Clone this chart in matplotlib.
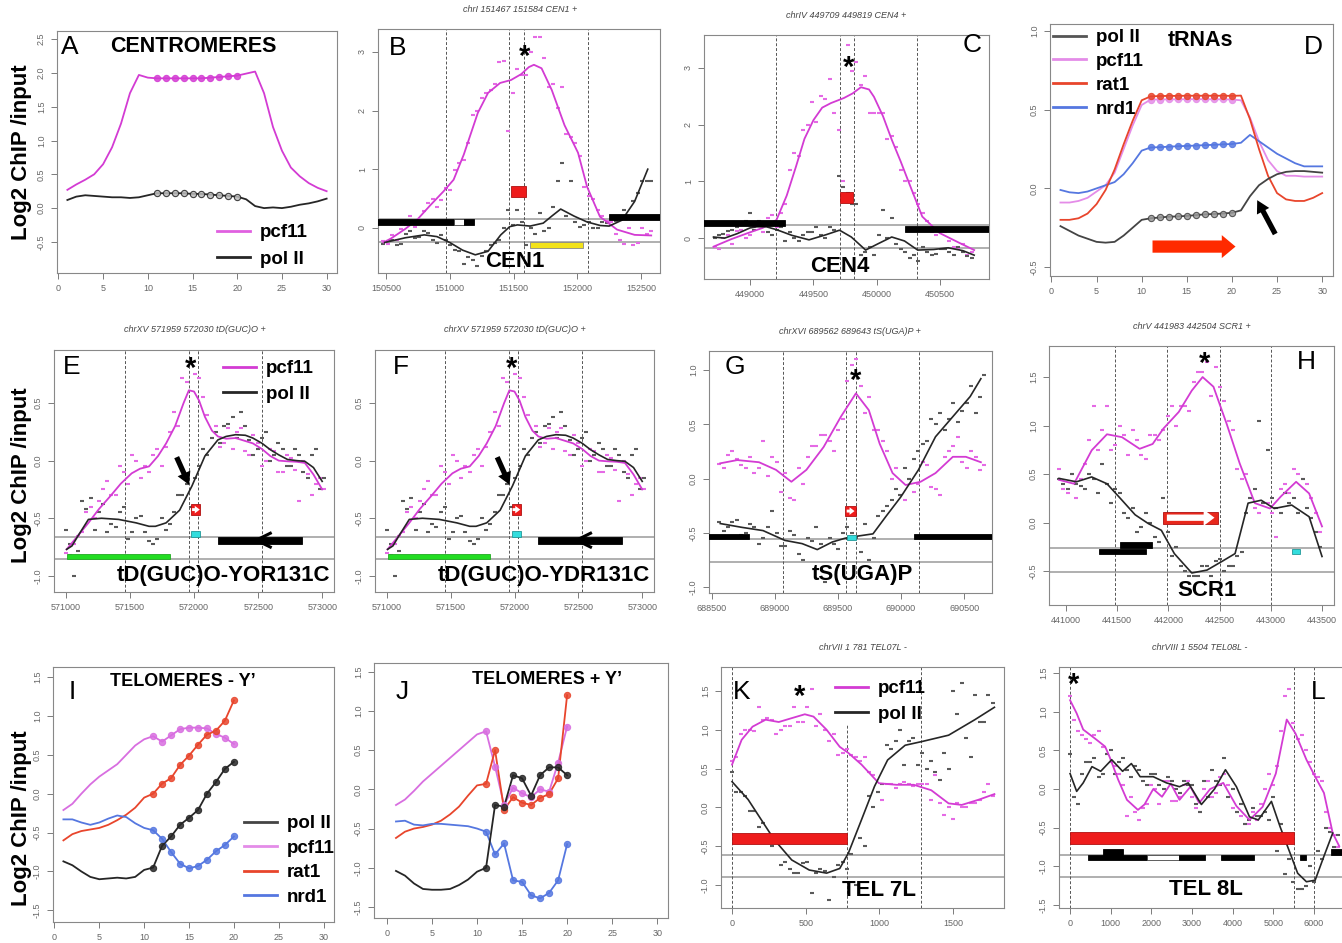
import matplotlib
matplotlib.use("Agg")
import matplotlib.pyplot as plt
from matplotlib.patches import Rectangle
from matplotlib.lines import Line2D

plt.rcParams['font.family'] = ['Liberation Sans', 'DejaVu Sans']

W, H = 1342, 943

# colours
MAG = '#d33bd3'
MAG_PT = '#e56ae5'
POL = '#262626'
POL_PT = '#5a5a5a'
PCF_L = '#e48ce8'
RAT = '#e8452c'
NRD = '#5577e0'

# ---------------- metagene profiles (bins 1..30) ----------------
bins30 = [1, 2, 3, 4, 5, 6, 7, 8, 9, 10, 11, 12, 13, 14, 15, 16, 17, 18, 19, 20,
          21, 22, 23, 24, 25, 26, 27, 28, 29, 30]
A_pcf11 = [0.27, 0.35, 0.42, 0.50, 0.65, 0.90, 1.25, 1.70, 1.97, 1.93, 1.92, 1.92, 1.92, 1.92, 1.92,
           1.92, 1.93, 1.94, 1.95, 1.96, 1.99, 2.02, 1.70, 1.20, 0.85, 0.60, 0.47, 0.37, 0.30, 0.25]
A_pol2 = [0.12, 0.17, 0.19, 0.18, 0.17, 0.16, 0.16, 0.15, 0.16, 0.19, 0.22, 0.22, 0.22, 0.22, 0.21,
          0.21, 0.20, 0.19, 0.18, 0.17, 0.13, 0.03, 0.00, 0.01, 0.00, 0.02, 0.05, 0.07, 0.10, 0.14]

D_pol2 = [-0.24, -0.27, -0.30, -0.32, -0.34, -0.345, -0.34, -0.30, -0.25, -0.20, -0.19, -0.185, -0.18,
          -0.178, -0.175, -0.17, -0.165, -0.163, -0.16, -0.155, -0.14, -0.05, 0.02, 0.06, 0.09, 0.105,
          0.11, 0.11, 0.105, 0.10]
D_pcf11 = [-0.09, -0.09, -0.08, -0.06, -0.02, 0.02, 0.10, 0.25, 0.40, 0.53, 0.565, 0.565, 0.566, 0.566,
           0.567, 0.567, 0.567, 0.566, 0.566, 0.565, 0.56, 0.45, 0.30, 0.18, 0.11, 0.08, 0.08, 0.075,
           0.075, 0.075]
D_rat1 = [-0.20, -0.20, -0.19, -0.16, -0.10, -0.01, 0.12, 0.28, 0.43, 0.56, 0.585, 0.587, 0.588, 0.588,
          0.589, 0.589, 0.589, 0.589, 0.589, 0.588, 0.59, 0.44, 0.25, 0.08, -0.03, -0.07, -0.08, -0.08,
          -0.06, -0.03]
D_nrd1 = [-0.01, -0.025, -0.03, -0.02, 0.00, 0.02, 0.04, 0.09, 0.16, 0.24, 0.26, 0.262, 0.265, 0.268,
          0.27, 0.272, 0.275, 0.277, 0.28, 0.282, 0.29, 0.34, 0.30, 0.26, 0.22, 0.19, 0.16, 0.14, 0.14,
          0.14]

bins20 = [1, 2, 3, 4, 5, 6, 7, 8, 9, 10, 11, 12, 13, 14, 15, 16, 17, 18, 19, 20]
I_pol2 = [-0.87, -0.92, -1.00, -1.07, -1.10, -1.09, -1.08, -1.09, -1.07, -0.98, -0.95, -0.67, -0.55,
          -0.40, -0.31, -0.21, 0.00, 0.15, 0.32, 0.41]
I_pcf11 = [-0.21, -0.13, 0.00, 0.12, 0.22, 0.30, 0.38, 0.50, 0.62, 0.70, 0.74, 0.67, 0.75, 0.83, 0.85,
           0.85, 0.84, 0.77, 0.72, 0.64]
I_rat1 = [-0.60, -0.52, -0.48, -0.46, -0.44, -0.40, -0.34, -0.27, -0.18, -0.05, 0.00, 0.13, 0.20, 0.37,
          0.49, 0.63, 0.76, 0.81, 0.94, 1.20]
I_nrd1 = [-0.33, -0.33, -0.37, -0.40, -0.37, -0.32, -0.28, -0.30, -0.38, -0.44, -0.47, -0.58, -0.75,
          -0.90, -0.96, -0.93, -0.85, -0.74, -0.66, -0.55]

J_pol2 = [-1.04, -1.10, -1.20, -1.27, -1.28, -1.28, -1.27, -1.22, -1.15, -1.05, -1.00, -0.20, -0.22,
          0.18, 0.14, -0.08, 0.18, 0.28, 0.28, 0.18]
J_pcf11 = [-0.20, -0.13, -0.02, 0.10, 0.20, 0.30, 0.40, 0.50, 0.60, 0.70, 0.74, 0.29, -0.20, 0.02,
           -0.05, -0.10, 0.00, -0.03, 0.34, 0.80]
J_rat1 = [-0.62, -0.54, -0.50, -0.48, -0.45, -0.40, -0.32, -0.22, -0.08, 0.05, 0.07, 0.50, -0.26, -0.10,
          -0.17, -0.20, -0.11, -0.06, 0.14, 1.20]
J_nrd1 = [-0.41, -0.40, -0.45, -0.46, -0.44, -0.44, -0.45, -0.46, -0.47, -0.50, -0.54, -0.83, -0.69,
          -1.16, -1.18, -1.35, -1.39, -1.32, -1.16, -0.70]

# ---------------- CEN1 ----------------
B_probe_x = [150480, 150550, 150620, 150690, 150760, 150830, 150900, 150970, 151040, 151110, 151180,
             151250, 151320, 151390, 151460, 151530, 151600, 151670, 151740, 151810, 151880, 151950,
             152020, 152090, 152160, 152230, 152300, 152370, 152440, 152510, 152580]
B_pcf11_pts = [-0.22, -0.12, -0.02, 0.20, 0.08, 0.42, 0.36, 0.68, 0.98, 1.15, 1.92, 2.22, 2.35, 2.82,
               1.65, 2.70, 2.60, 3.25, 2.90, 2.45, 2.40, 1.55, 1.22, 0.55, 0.30, 0.12, -0.10, -0.28,
               -0.30, 0.00, -0.05]
B_pol2_pts = [-0.27, -0.20, -0.28, -0.05, -0.15, -0.08, -0.25, -0.20, -0.38, -0.62, -0.55, -0.48, -0.30,
              -0.20, 0.30, 0.30, -0.30, -0.10, -0.05, 0.35, 1.10, 0.80, 0.02, 0.10, 0.00, 0.08, 0.12,
              0.30, 0.45, 0.80, 0.80]
B_probe_x2 = [150515, 150585, 150655, 150725, 150795, 150865, 150935, 151005, 151075, 151145, 151215,
              151285, 151355, 151425, 151495, 151565, 151635, 151705, 151775, 151845, 151915, 151985,
              152055, 152125, 152195, 152265, 152335, 152405, 152475, 152545]
B_pcf11_pts2 = [-0.28, -0.20, 0.05, 0.02, 0.28, 0.50, 0.48, 0.65, 1.10, 1.45, 2.00, 2.30, 2.45, 2.85,
                2.30, 2.60, 3.00, 3.25, 2.40, 2.05, 1.60, 1.45, 0.70, 0.50, 0.20, 0.10, -0.20, 0.00,
                -0.25, -0.10]
B_pol2_pts2 = [-0.22, -0.30, -0.10, -0.18, -0.05, -0.20, -0.12, -0.30, -0.40, -0.50, -0.65, -0.40,
               -0.25, 0.00, 0.05, 0.10, 0.00, 0.25, 0.00, 0.80, 0.20, 0.10, 0.05, 0.00, 0.10, 0.05,
               0.20, 0.15, 0.60, 0.80]
B_pcf11_fit_x = [150480, 150540, 150650, 150745, 150845, 150950, 151030, 151110, 151220, 151300, 151395,
                 151480, 151560, 151620, 151660, 151720, 151800, 151900, 152006, 152077, 152178, 152312,
                 152450, 152580]
B_pcf11_fit = [-0.25, -0.18, -0.02, 0.14, 0.38, 0.62, 0.82, 1.25, 1.96, 2.30, 2.47, 2.52, 2.62, 2.74,
               2.78, 2.72, 2.35, 1.75, 1.28, 0.70, 0.19, -0.03, -0.12, -0.13]
B_pol2_fit_x = [150490, 150650, 150800, 150900, 151000, 151100, 151200, 151300, 151400, 151470, 151530,
                151630, 151733, 151800, 151870, 151975, 152077, 152180, 152250, 152350, 152450, 152553]
B_pol2_fit = [-0.25, -0.17, -0.12, -0.15, -0.25, -0.38, -0.46, -0.40, -0.12, 0.02, 0.05, 0.03, 0.08,
              0.20, 0.32, 0.20, 0.10, 0.04, 0.03, 0.13, 0.45, 1.00]
B_feature = [151467, 151584]
B_track = [0.15, -0.24]
B_genes = [(150300, 151030, 0.04, 0.15, 'black'), (151030, 151110, 0.04, 0.15, 'white'),
           (151110, 151190, 0.04, 0.15, 'black'), (152250, 152750, 0.14, 0.24, 'black'),
           (151630, 152045, -0.35, -0.24, '#f2e21a'), (151480, 151598, 0.52, 0.72, '#ee1c1c')]

# ---------------- CEN4 ----------------
C_probe_x = [448720, 448790, 448860, 448930, 449000, 449070, 449140, 449210, 449280, 449350, 449420,
             449490, 449560, 449630, 449700, 449770, 449840, 449910, 449980, 450050, 450120, 450190,
             450260, 450330, 450400, 450470, 450540, 450610, 450680, 450750]
C_pcf11_pts = [-0.15, 0.00, -0.10, 0.15, 0.05, 0.25, 0.35, 0.20, 0.60, 1.50, 1.90, 2.40, 2.50, 2.80,
               1.90, 3.40, 3.10, 2.85, 2.20, 2.20, 1.80, 1.20, 1.00, 0.60, 0.30, 0.05, 0.10, -0.15,
               -0.10, -0.25]
C_pol2_pts = [0.00, 0.08, 0.15, 0.25, 0.45, 0.30, 0.10, 0.15, -0.05, 0.00, 0.05, 0.10, 0.05, 0.20,
              1.10, 0.80, 0.60, -0.25, -0.30, 0.50, 0.35, -0.20, -0.35, -0.40, -0.25, -0.28, -0.20,
              -0.30, -0.25, -0.35]
C_probe_x2 = [448755, 448825, 448895, 448965, 449035, 449105, 449175, 449245, 449315, 449385, 449455,
              449525, 449595, 449665, 449735, 449805, 449875, 449945, 450015, 450085, 450155, 450225,
              450295, 450365, 450435, 450505, 450575, 450645, 450715]
C_pcf11_pts2 = [-0.20, 0.05, 0.12, 0.00, 0.20, 0.10, 0.40, 0.45, 1.20, 1.45, 2.00, 2.05, 2.45, 2.20,
                1.00, 2.95, 2.70, 2.20, 2.20, 1.75, 1.60, 1.00, 0.80, 0.45, 0.10, 0.15, -0.05, -0.20,
                -0.30]
C_pol2_pts2 = [0.05, 0.12, 0.20, 0.30, 0.15, 0.25, 0.05, 0.20, 0.10, -0.05, 0.10, 0.20, 0.00, 0.15,
               0.90, 0.60, -0.30, -0.15, 0.05, 0.00, -0.10, -0.25, -0.30, -0.15, -0.30, -0.20, -0.25,
               -0.15, -0.32]
C_pcf11_fit_x = [448712, 448850, 448984, 449100, 449209, 449290, 449363, 449430, 449501, 449570, 449639,
                 449742, 449810, 449876, 449940, 449979, 450050, 450120, 450190, 450256, 450360, 450497,
                 450650, 450770]
C_pcf11_fit = [-0.15, -0.02, 0.09, 0.18, 0.32, 0.75, 1.26, 1.75, 2.08, 2.30, 2.38, 2.47, 2.55, 2.66,
               2.62, 2.49, 2.15, 1.73, 1.35, 0.97, 0.38, 0.09, -0.08, -0.21]
C_pol2_fit_x = [448712, 448800, 448900, 449000, 449055, 449130, 449209, 449330, 449466, 449600, 449707,
                449800, 449913, 450010, 450119, 450220, 450324, 450450, 450565, 450680, 450770]
C_pol2_fit = [0.02, 0.00, 0.08, 0.18, 0.20, 0.20, 0.15, 0.05, -0.03, 0.06, 0.14, 0.02, -0.21, -0.10,
              0.02, -0.05, -0.21, -0.20, -0.17, -0.22, -0.30]
C_feature = [449709, 449819]
C_track = [0.23, -0.18]
C_genes = [(448500, 449276, 0.21, 0.32, 'black'), (450220, 451000, 0.11, 0.21, 'black'),
           (449707, 449817, 0.62, 0.82, '#ee1c1c')]

# ---------------- tD(GUC)O ----------------
E_probe_x = [571000, 571065, 571130, 571195, 571260, 571325, 571390, 571455, 571520, 571585, 571650,
             571715, 571780, 571845, 571910, 571975, 572040, 572105, 572170, 572235, 572300, 572365,
             572430, 572495, 572560, 572625, 572690, 572755, 572820, 572885, 572950, 573015]
E_pcf11_pts = [-0.80, -0.72, -0.62, -0.40, -0.35, -0.18, -0.30, -0.10, 0.05, -0.15, -0.10, 0.10, 0.12,
               0.42, 0.72, 0.85, 0.72, 0.40, 0.30, 0.15, 0.10, 0.28, 0.05, 0.15, 0.00, 0.08, -0.10,
               0.02, -0.35, -0.12, -0.20, -0.25]
E_pol2_pts = [-0.60, -1.00, -0.35, -0.32, -0.45, -0.62, -0.58, -0.40, -0.62, -0.48, -0.70, -0.68, -0.60,
              -0.45, -0.30, -0.40, -0.05, 0.05, 0.25, 0.30, 0.38, 0.42, 0.18, 0.10, 0.25, 0.05, 0.10,
              -0.05, 0.05, -0.15, 0.10, -0.15]
E_probe_x2 = [571032, 571097, 571162, 571227, 571292, 571357, 571422, 571487, 571552, 571617, 571682,
              571747, 571812, 571877, 571942, 572007, 572072, 572137, 572202, 572267, 572332, 572397,
              572462, 572527, 572592, 572657, 572722, 572787, 572852, 572917, 572982]
E_pcf11_pts2 = [-0.82, -0.65, -0.45, -0.50, -0.25, -0.30, -0.05, -0.20, 0.00, -0.05, 0.05, -0.05, 0.25,
                0.30, 0.68, 0.75, 0.55, 0.20, 0.12, 0.28, 0.25, 0.08, 0.22, -0.05, 0.10, -0.10, 0.05,
                -0.08, 0.00, -0.30, -0.15]
E_pol2_pts2 = [-0.72, -0.78, -0.42, -0.60, -0.38, -0.55, -0.45, -0.68, -0.50, -0.62, -0.72, -0.50,
               -0.55, -0.30, -0.20, -0.15, 0.10, 0.20, 0.15, 0.32, 0.20, 0.30, 0.05, 0.20, 0.00, 0.15,
               -0.05, 0.10, -0.10, 0.05, -0.25]
E_pcf11_fit_x = [571008, 571090, 571178, 571260, 571347, 571430, 571515, 571580, 571650, 571720, 571783,
                 571853, 571919, 571960, 572000, 572040, 572085, 572140, 572186, 572250, 572324, 572400,
                 572458, 572530, 572594, 572660, 572728, 572800, 572863, 572930, 572998]
E_pcf11_fit = [-0.77, -0.66, -0.54, -0.42, -0.31, -0.20, -0.11, -0.07, -0.05, 0.04, 0.15, 0.30, 0.50,
               0.61, 0.60, 0.52, 0.38, 0.26, 0.21, 0.19, 0.196, 0.17, 0.15, 0.10, 0.04, 0.00, -0.006,
               -0.01, -0.02, -0.12, -0.25]
E_pol2_fit_x = [571008, 571050, 571093, 571178, 571280, 571412, 571549, 571650, 571700, 571783, 571888,
                571984, 572085, 572186, 572250, 572324, 572400, 572458, 572530, 572594, 572660, 572728,
                572800, 572863, 572930, 572998]
E_pol2_fit = [-0.77, -0.74, -0.66, -0.51, -0.50, -0.51, -0.54, -0.57, -0.57, -0.54, -0.43, -0.22, 0.04,
              0.18, 0.21, 0.225, 0.22, 0.196, 0.15, 0.095, 0.05, 0.01, 0.00, -0.006, -0.06, -0.18]
E_feature = [571959, 572030]
E_track = [-0.667, -0.855]
E_genes = [(572186, 572837, -0.72, -0.66, 'black'), (571008, 571812, -0.855, -0.81, '#22dd22'),
           (571977, 572047, -0.665, -0.61, '#33dddd'), (571977, 572050, -0.47, -0.38, '#ee1c1c')]
E_chevron_x = [572594, 572485, 572594]
E_chevron_y = [-0.63, -0.69, -0.75]

# ---------------- tS(UGA)P ----------------
G_probe_x = [688560, 688630, 688700, 688770, 688840, 688910, 688980, 689050, 689120, 689190, 689260,
             689330, 689400, 689470, 689540, 689610, 689680, 689750, 689820, 689890, 689960, 690030,
             690100, 690170, 690240, 690310, 690380, 690450, 690520, 690590, 690660]
G_pcf11_pts = [0.13, 0.22, 0.18, 0.10, 0.05, 0.35, 0.20, -0.12, -0.18, 0.10, 0.20, 0.30, 0.40, 0.25,
               0.55, 1.05, 0.85, 0.75, 0.45, 0.25, 0.10, -0.20, -0.12, 0.15, -0.08, -0.15, 0.25, 0.38,
               0.10, 0.20, 0.12]
G_pol2_pts = [-0.40, -0.45, -0.38, -0.50, -0.45, -0.55, -0.30, -0.62, -0.48, -0.70, -0.55, -0.45, -0.95,
              -0.60, -0.50, -0.50, -0.68, -0.75, -0.35, -0.25, -0.10, 0.10, 0.18, 0.32, 0.55, 0.60,
              0.55, 0.52, 0.70, 0.60, 0.95]
G_probe_x2 = [688595, 688665, 688735, 688805, 688875, 688945, 689015, 689085, 689155, 689225, 689295,
              689365, 689435, 689505, 689575, 689645, 689715, 689785, 689855, 689925, 689995, 690065,
              690135, 690205, 690275, 690345, 690415, 690485, 690555, 690625]
G_pcf11_pts2 = [0.10, 0.25, 0.12, 0.20, 0.10, 0.02, 0.15, 0.05, -0.20, -0.05, 0.30, 0.40, 0.35, 0.45,
                0.90, 1.10, 0.60, 0.45, 0.35, 0.00, -0.15, 0.00, -0.05, 0.12, -0.10, 0.20, 0.30, 0.15,
                0.25, 0.08]
G_pol2_pts2 = [-0.48, -0.40, -0.52, -0.42, -0.60, -0.45, -0.50, -0.62, -0.52, -0.75, -0.58, -0.60,
               -0.55, -0.65, -0.45, -0.55, -0.42, -0.55, -0.30, -0.20, -0.15, 0.00, 0.25, 0.35, 0.50,
               0.45, 0.70, 0.62, 0.85, 0.75]
G_pcf11_fit_x = [688569, 688704, 688876, 689010, 689132, 689251, 689387, 689524, 689643, 689745, 689831,
                 689933, 690036, 690155, 690273, 690410, 690513, 690632]
G_pcf11_fit = [0.14, 0.17, 0.15, 0.08, -0.03, 0.08, 0.29, 0.57, 0.785, 0.63, 0.32, 0.05, -0.06, -0.03,
               0.05, 0.20, 0.20, 0.15]
G_pol2_fit_x = [688569, 688740, 688908, 689080, 689217, 689337, 689456, 689558, 689661, 689778, 689880,
                689998, 690138, 690273, 690410, 690547, 690632]
G_pol2_fit = [-0.415, -0.45, -0.48, -0.57, -0.60, -0.655, -0.585, -0.55, -0.53, -0.51, -0.35, -0.17,
              0.08, 0.385, 0.57, 0.755, 0.92]
G_feature = [689562, 689643]
G_track = [-0.56, -0.77]
G_genes = [(688300, 688800, -0.56, -0.51, 'black'), (690104, 690900, -0.56, -0.51, 'black'),
           (689575, 689640, -0.565, -0.52, '#33dddd'), (689558, 689643, -0.35, -0.25, '#ee1c1c')]

# ---------------- SCR1 ----------------
H_probe_x = [440930, 441015, 441100, 441185, 441270, 441355, 441440, 441525, 441610, 441695, 441780,
             441865, 441950, 442035, 442120, 442205, 442290, 442375, 442460, 442545, 442630, 442715,
             442800, 442885, 442970, 443055, 443140, 443225, 443310, 443395, 443480]
H_pcf11_pts = [0.55, 0.30, 0.25, 0.60, 1.20, 0.95, 0.75, 1.00, 0.70, 0.85, 0.65, 0.90, 0.95, 1.20, 1.20,
               1.15, 1.55, 1.65, 1.60, 1.25, 0.95, 0.45, 0.25, 0.10, 0.20, -0.15, 0.40, 0.55, 0.45,
               0.25, -0.10]
H_pol2_pts = [0.45, 0.35, 0.40, 0.35, 0.45, 0.60, 0.20, 0.30, 0.05, -0.10, 0.10, -0.15, 0.25, -0.35,
              -0.45, -0.55, -0.55, -0.45, -0.40, -0.50, -0.45, -0.30, 0.25, 1.05, 0.75, 0.15, 0.30,
              0.25, 0.45, 0.05, -0.25]
H_probe_x2 = [440972, 441057, 441142, 441227, 441312, 441397, 441482, 441567, 441652, 441737, 441822,
              441907, 441992, 442077, 442162, 442247, 442332, 442417, 442502, 442587, 442672, 442757,
              442842, 442927, 443012, 443097, 443182, 443267, 443352, 443437]
H_pcf11_pts2 = [0.35, 0.50, 0.45, 0.85, 0.75, 1.20, 0.80, 0.90, 0.95, 0.70, 0.90, 0.85, 1.10, 1.00,
                1.20, 1.45, 1.55, 1.30, 1.40, 1.05, 0.55, 0.50, 0.15, 0.20, 0.10, 0.35, 0.30, 0.50,
                0.40, 0.10]
H_pol2_pts2 = [0.40, 0.50, 0.38, 0.50, 0.30, 0.40, 0.35, 0.10, 0.15, -0.05, 0.00, -0.20, -0.10, -0.25,
               -0.50, -0.55, -0.45, -0.55, -0.38, -0.45, -0.35, 0.10, 0.35, 0.20, 0.25, 0.10, 0.20,
               0.10, 0.15, -0.10]
H_pcf11_fit_x = [440932, 441078, 441251, 441400, 441547, 441719, 441846, 441952, 442101, 442228, 442334,
                 442440, 442568, 442696, 442844, 442992, 443099, 443247, 443374, 443500]
H_pcf11_fit = [0.44, 0.40, 0.745, 0.91, 0.88, 0.76, 0.81, 0.97, 1.14, 1.36, 1.50, 1.40, 1.02, 0.61,
               0.20, 0.145, 0.27, 0.42, 0.30, -0.04]
H_pol2_fit_x = [440932, 441102, 441251, 441400, 441547, 441675, 441803, 441931, 442058, 442228, 442377,
                442524, 442651, 442778, 442906, 443033, 443204, 443374, 443500]
H_pol2_fit = [0.455, 0.42, 0.47, 0.40, 0.23, 0.08, -0.01, -0.08, -0.32, -0.52, -0.49, -0.40, -0.32,
              0.20, 0.23, 0.145, 0.18, 0.06, -0.35]
H_feature = [441983, 442504]
H_track = [-0.26, -0.51]
H_genes = [(441322, 441781, -0.325, -0.27, 'black'), (441528, 441837, -0.265, -0.205, 'black'),
           (443204, 443281, -0.325, -0.27, '#33dddd'), (441952, 442482, -0.01, 0.11, '#e8281c')]

# ---------------- TEL07L ----------------
K_probe_x = [0, 60, 120, 180, 240, 300, 360, 420, 480, 540, 600, 660, 720, 780, 840, 900, 960, 1020,
             1080, 1140, 1200, 1260, 1320, 1380, 1440, 1500, 1560, 1620, 1680, 1740]
K_pcf11_pts = [0.60, 0.95, 1.00, 1.30, 1.15, 0.95, 1.05, 1.30, 1.10, 1.52, 1.20, 0.85, 0.68, 0.75, 0.65,
               0.65, 0.42, 0.10, 0.30, 0.30, 0.30, 0.30, 0.30, 0.42, -0.10, -0.15, 0.00, 0.05, 0.10,
               0.30]
K_pol2_pts = [0.45, 0.20, -0.05, -0.25, -0.45, -0.45, -0.70, -0.85, -0.72, -1.10, -0.80, -1.20, -0.75,
              -0.80, -1.00, -0.50, 0.00, 0.30, 0.75, 1.00, 0.85, 0.55, 0.50, 0.45, 0.70, 1.50, 1.60,
              0.65, 1.10, 1.45]
K_probe_x2 = [30, 90, 150, 210, 270, 330, 390, 450, 510, 570, 630, 690, 750, 810, 870, 930, 990, 1050,
              1110, 1170, 1230, 1290, 1350, 1410, 1470, 1530, 1590, 1650, 1710, 1770]
K_pcf11_pts2 = [0.65, 1.00, 0.98, 1.12, 1.12, 1.00, 1.05, 1.10, 1.30, 1.05, 1.00, 0.95, 0.70, 0.68,
                0.60, 0.45, 0.20, 0.30, 0.25, 0.32, 0.28, 0.30, 0.10, 0.05, 0.00, 0.05, 0.00, 0.05,
                0.20, 0.15]
K_pol2_pts2 = [0.20, 0.15, -0.05, -0.20, -0.50, -0.75, -0.80, -0.85, -0.70, -0.85, -0.82, -0.90, -0.70,
               -0.60, -0.40, 0.15, 0.20, 0.80, 0.85, 0.55, 0.90, 0.70, 0.60, 0.35, 0.50, 1.20, 0.90,
               1.45, 1.10, 1.35]
K_pcf11_fit_x = [0, 65, 139, 228, 317, 405, 494, 553, 642, 731, 790, 879, 997, 1115, 1234, 1352, 1470,
                 1559, 1678, 1781]
K_pcf11_fit = [0.55, 0.87, 1.04, 1.13, 1.10, 1.15, 1.20, 1.17, 1.00, 0.78, 0.70, 0.55, 0.31, 0.29, 0.29,
               0.22, 0.05, 0.03, 0.10, 0.17]
K_pol2_fit_x = [0, 109, 198, 287, 405, 524, 642, 731, 790, 879, 967, 1056, 1175, 1293, 1470, 1648, 1781]
K_pol2_fit = [0.33, 0.10, -0.16, -0.42, -0.68, -0.81, -0.85, -0.79, -0.59, -0.16, 0.27, 0.61, 0.80,
              0.85, 0.93, 1.13, 1.29]
K_feature = [1, 781]
K_track = [-0.61, -0.90]
K_genes = [(1, 781, -0.47, -0.33, '#ee1c1c')]

# ---------------- TEL08L ----------------
L_probe_x = [0, 200, 400, 600, 800, 1000, 1200, 1400, 1600, 1800, 2000, 2200, 2400, 2600, 2800, 3000,
             3200, 3400, 3600, 3800, 4000, 4200, 4400, 4600, 4800, 5000, 5200, 5400, 5600, 5800, 6000,
             6200, 6400, 6600]
L_pcf11_pts = [1.20, 0.75, 0.65, 0.70, 0.55, 0.35, 0.20, -0.35, -0.30, -0.25, 0.05, -0.20, 0.10, -0.15,
               0.05, -0.10, -0.30, 0.10, -0.05, 0.20, -0.25, -0.35, -0.45, -0.40, 0.00, 0.05, 0.75,
               1.30, 0.65, 0.50, 0.20, 0.10, -0.50, -0.75]
L_pol2_pts = [0.45, -0.20, 0.35, 0.40, 0.20, 0.50, 0.35, 0.25, 0.30, 0.10, 0.20, 0.05, 0.15, 0.00, 0.10,
              0.05, -0.30, -0.10, 0.10, 0.40, 0.00, -0.20, -0.40, -0.35, -0.30, -0.10, -0.45, -0.90,
              -1.30, -1.25, -1.20, -0.90, -0.55, -0.60]
L_probe_x2 = [100, 300, 500, 700, 900, 1100, 1300, 1500, 1700, 1900, 2100, 2300, 2500, 2700, 2900, 3100,
              3300, 3500, 3700, 3900, 4100, 4300, 4500, 4700, 4900, 5100, 5300, 5500, 5700, 5900, 6100,
              6300, 6500]
L_pcf11_pts2 = [0.90, 0.70, 0.60, 0.75, 0.45, 0.30, 0.05, -0.10, -0.40, -0.20, 0.00, 0.10, -0.15, -0.10,
                0.10, -0.25, 0.00, -0.10, 0.15, 0.05, -0.30, -0.45, -0.30, -0.20, 0.20, 0.30, 1.20,
                0.85, 0.70, 0.35, 0.15, -0.30, -0.60]
L_pol2_pts2 = [-0.10, 0.20, 0.35, 0.15, 0.45, 0.20, 0.40, 0.15, 0.25, 0.05, 0.20, 0.00, 0.10, -0.05,
               0.05, -0.20, 0.10, 0.25, 0.05, -0.10, -0.30, -0.45, -0.25, -0.35, -0.40, -0.80, -1.10,
               -1.20, -1.30, -1.00, -0.80, -0.50, -0.75]
L_pcf11_fit_x = [0, 162, 323, 647, 862, 970, 1185, 1400, 1670, 1832, 2047, 2263, 2478, 2694, 2963, 3179,
                 3448, 3771, 4095, 4418, 4741, 5065, 5334, 5549, 5819, 6034, 6250, 6466, 6627]
L_pcf11_fit = [1.15, 0.98, 0.77, 0.64, 0.55, 0.42, 0.12, -0.14, -0.27, -0.20, 0.00, -0.10, 0.07, -0.14,
               0.03, -0.18, 0.00, 0.08, -0.22, -0.40, -0.23, 0.20, 0.90, 0.72, 0.38, 0.16, -0.05, -0.57,
               -0.74]
L_pol2_fit_x = [0, 162, 323, 539, 754, 1024, 1293, 1509, 1724, 2047, 2371, 2694, 2909, 3233, 3556, 3825,
                4095, 4418, 4634, 4957, 5172, 5388, 5603, 5819, 6034, 6250, 6466]
L_pol2_fit = [0.20, -0.03, 0.08, 0.29, 0.23, 0.38, 0.23, 0.33, 0.16, 0.16, 0.08, 0.03, 0.08, -0.20,
              0.00, 0.25, 0.03, -0.36, -0.40, -0.16, -0.49, -0.79, -1.09, -1.20, -1.18, -0.87, -0.57]
L_feature = [1, 5504]
L_track = [-0.85, -1.14]
L_genes = [(1, 5504, -0.71, -0.56, '#ee1c1c'), (431, 1886, -0.92, -0.85, 'black'),
           (808, 1293, -0.85, -0.78, 'black'), (1886, 2672, -0.92, -0.85, 'white'),
           (2672, 3319, -0.92, -0.85, 'black'), (3718, 4526, -0.92, -0.85, 'black'),
           (5657, 5797, -0.92, -0.85, 'black'), (6412, 7000, -0.85, -0.78, 'black')]

EDGES = {'black': 'black', 'white': '#444444', '#f2e21a': '#888888', '#ee1c1c': '#b01010',
         '#e8281c': '#b01010', '#22dd22': '#22aa22', '#33dddd': '#229999'}

fig = plt.figure(figsize=(W / 100, H / 100), dpi=100)


def panel(box, xlim, ylim, xticks, yticks, ydec=1):
    l, t, r, b = box
    ax = fig.add_axes([l / W, 1 - b / H, (r - l) / W, (b - t) / H])
    ax.set_xlim(*xlim)
    ax.set_ylim(*ylim)
    ax.set_xticks(xticks)
    ax.set_xticklabels([str(v) for v in xticks])
    ax.set_yticks(yticks)
    ax.set_yticklabels([f'{v:.{ydec}f}' for v in yticks], rotation=90, va='center')
    ax.tick_params(labelsize=6.5, colors='#666666', length=4, width=0.6, pad=4)
    for s in ax.spines.values():
        s.set_color('#888888')
        s.set_linewidth(0.8)
    return ax


def track(ax, lines, feature, genes, flank=500, end_top=None):
    # end_top: height where the feature-end guide stops (legend sits above it)
    for y in lines:
        ax.axhline(y, color='#9a9a9a', lw=1.1, zorder=1)
    start, end = feature
    y0, y1 = ax.get_ylim()
    for x in (start - flank, start, end, end + flank):
        top = end_top if (x == end and end_top is not None) else y1
        ax.vlines(x, y0, top, color='#555555', lw=0.7, linestyles=(0, (3, 2)), zorder=1)
    for x0, x1, g0, g1, c in genes:
        ax.add_patch(Rectangle((x0, g0), x1 - x0, g1 - g0, fc=c, ec=EDGES[c], lw=0.6, zorder=5))


def probes(ax, x, pcf, pol):
    ax.plot(x, pcf, ls='none', marker='_', ms=3.5, mew=1.5, color=MAG_PT, zorder=2)
    ax.plot(x, pol, ls='none', marker='_', ms=3.5, mew=1.5, color=POL_PT, zorder=2)


def strand_arrow(ax, x0, x1, y, scale=6):
    ax.annotate('', xy=(x1, y), xytext=(x0, y), zorder=7,
                arrowprops=dict(arrowstyle='simple,head_length=0.6,head_width=0.9,tail_width=0.35',
                                fc='white', ec='none', mutation_scale=scale, shrinkA=0, shrinkB=0))


def big_arrow(ax, tail, head, color, scale, style):
    ax.annotate('', xy=head, xytext=tail, zorder=8,
                arrowprops=dict(arrowstyle=style, fc=color, ec='none', mutation_scale=scale,
                                shrinkA=0, shrinkB=0))


def legend(ax, names, colors, px, py, lw=2.0, spacing=0.22):
    handles = [Line2D([], [], color=c, lw=lw) for c in colors]
    ax.legend(handles, names, loc='upper left', bbox_to_anchor=(px / W, 1 - py / H),
              bbox_transform=fig.transFigure, frameon=False, handlelength=1.75,
              handletextpad=0.55, labelspacing=spacing, borderpad=0, borderaxespad=0,
              prop=dict(weight='bold', size=13.5))


def ftext(px, py, s, size, **kw):
    fig.text(px / W, 1 - py / H, s, fontsize=size, ha='center', va='center', **kw)


def star(ax, x, y):
    ax.text(x, y, '*', fontsize=21, fontweight='bold', ha='center', va='center', zorder=9)


def gene_label(ax, x, y, s, **kw):
    ax.text(x, y, s, fontsize=16, fontweight='bold', ha='center', va='center', zorder=9, **kw)


def metagene(ax, x, y, color, lw=1.3, face=None):
    # circles mark the feature body (bins 11-20)
    ax.plot(x, y, color=color, lw=lw, zorder=3)
    ax.plot(x[10:20], y[10:20], ls='none', marker='o', ms=4.5, mew=0.8,
            mfc=face or color, mec=color, alpha=0.85, zorder=4)


def tiled(ax, x1, p1, q1, x2, p2, q2, pcf_x, pcf_y, pol_x, pol_y):
    probes(ax, x1, p1, q1)
    probes(ax, x2, p2, q2)
    ax.plot(pcf_x, pcf_y, color=MAG, lw=1.3, zorder=4)
    ax.plot(pol_x, pol_y, color=POL, lw=1.2, zorder=4)


x30 = [0, 5, 10, 15, 20, 25, 30]

# ---- A: centromeres metagene ----
ax = panel((57, 31, 337, 273), (-0.16, 31.16), (-0.96, 2.62), x30,
           [-0.5, 0.0, 0.5, 1.0, 1.5, 2.0, 2.5])
metagene(ax, bins30, A_pcf11, MAG)
metagene(ax, bins30, A_pol2, POL, face='#bbbbbb')
legend(ax, ['pcf11', 'pol II'], ['#e060e0', POL], 217, 224, spacing=0.5)
ftext(70, 47, 'A', 19)
ftext(193, 46, 'CENTROMERES', 15.5, fontweight='bold')

# ---- B: CEN1 ----
ax = panel((378, 29, 660, 273), (150437, 152649), (-0.77, 3.39),
           [150500, 151000, 151500, 152000, 152500], [0, 1, 2, 3], ydec=0)
track(ax, B_track, B_feature, B_genes)
tiled(ax, B_probe_x, B_pcf11_pts, B_pol2_pts, B_probe_x2, B_pcf11_pts2, B_pol2_pts2,
      B_pcf11_fit_x, B_pcf11_fit, B_pol2_fit_x, B_pol2_fit)
star(ax, 151590, 2.92)
gene_label(ax, 151510, -0.58, 'CEN1')
ftext(398, 48, 'B', 19)
ftext(520, 10, 'chrI 151467 151584 CEN1 +', 6.5, style='italic', color='#444444')

# ---- C: CEN4 ----
ax = panel((704, 35, 989, 279), (448637, 450887), (-0.72, 3.58),
           [449000, 449500, 450000, 450500], [0, 1, 2, 3], ydec=0)
track(ax, C_track, C_feature, C_genes)
tiled(ax, C_probe_x, C_pcf11_pts, C_pol2_pts, C_probe_x2, C_pcf11_pts2, C_pol2_pts2,
      C_pcf11_fit_x, C_pcf11_fit, C_pol2_fit_x, C_pol2_fit)
star(ax, 449775, 3.0)
gene_label(ax, 449707, -0.5, 'CEN4')
ftext(972, 45, 'C', 19)
ftext(846, 15, 'chrIV 449709 449819 CEN4 +', 6.5, style='italic', color='#444444')

# ---- D: tRNA metagene ----
ax = panel((1050, 24, 1333, 276), (-0.16, 31.2), (-0.557, 1.045), x30,
           [-0.5, 0.0, 0.5, 1.0])
metagene(ax, bins30, D_pcf11, PCF_L)
metagene(ax, bins30, D_nrd1, NRD)
metagene(ax, bins30, D_rat1, RAT)
metagene(ax, bins30, D_pol2, '#444444', face='#999999')
legend(ax, ['pol II', 'pcf11', 'rat1', 'nrd1'], ['#555555', PCF_L, RAT, NRD], 1053, 29, spacing=0.36)
big_arrow(ax, (11.2, -0.37), (20.4, -0.37), '#ff2a00', 11,
          'simple,head_length=0.9,head_width=1.5,tail_width=0.8')
big_arrow(ax, (24.8, -0.29), (22.8, -0.075), 'black', 10,
          'simple,head_length=0.9,head_width=1.0,tail_width=0.38')
ftext(1200, 40, 'tRNAs', 15.5, fontweight='bold')
ftext(1313, 47, 'D', 19)

# ---- E / F: tD(GUC)O ----
for box, letter, name, lx, title_x in [((54, 350, 334, 592), 'E', 'tD(GUC)O-YOR131C', 72, 195),
                                       ((375, 350, 654, 592), 'F', 'tD(GUC)O-YDR131C', 401, 515)]:
    ax = panel(box, (570910, 573090), (-1.14, 0.96),
               [571000, 571500, 572000, 572500, 573000], [-1.0, -0.5, 0.0, 0.5])
    track(ax, E_track, E_feature, E_genes)
    tiled(ax, E_probe_x, E_pcf11_pts, E_pol2_pts, E_probe_x2, E_pcf11_pts2, E_pol2_pts2,
          E_pcf11_fit_x, E_pcf11_fit, E_pol2_fit_x, E_pol2_fit)
    ax.plot(E_chevron_x, E_chevron_y, color='black', lw=2.2, zorder=6, solid_joinstyle='miter')
    strand_arrow(ax, 571985, 572045, -0.425)
    big_arrow(ax, (571865, 0.03), (571962, -0.21), 'black', 10,
              'simple,head_length=0.9,head_width=1.0,tail_width=0.38')
    star(ax, 571975, 0.8)
    gene_label(ax, 572230, -1.0, name)
    ftext(lx, 367, letter, 19)
    ftext(title_x, 329, 'chrXV 571959 572030 tD(GUC)O +', 6.5, style='italic', color='#444444')
    if letter == 'E':
        legend(ax, ['pcf11', 'pol II'], [MAG, POL], 223, 360, spacing=0.45)

# ---- G: tS(UGA)P ----
ax = panel((709, 351, 992, 593), (688480, 690720), (-1.055, 1.175),
           [688500, 689000, 689500, 690000, 690500], [-1.0, -0.5, 0.0, 0.5, 1.0])
track(ax, G_track, G_feature, G_genes)
tiled(ax, G_probe_x, G_pcf11_pts, G_pol2_pts, G_probe_x2, G_pcf11_pts2, G_pol2_pts2,
      G_pcf11_fit_x, G_pcf11_fit, G_pol2_fit_x, G_pol2_fit)
strand_arrow(ax, 689570, 689632, -0.30)
star(ax, 689643, 0.9)
gene_label(ax, 689692, -0.88, 'tS(UGA)P')
ftext(735, 367, 'G', 19)
ftext(850, 331, 'chrXVI 689562 689643 tS(UGA)P +', 6.5, style='italic', color='#444444')

# ---- H: SCR1 ----
ax = panel((1049, 346, 1334, 605), (440834, 443617), (-0.85, 1.82),
           [441000, 441500, 442000, 442500, 443000, 443500], [-0.5, 0.0, 0.5, 1.0, 1.5])
track(ax, H_track, H_feature, H_genes)
tiled(ax, H_probe_x, H_pcf11_pts, H_pol2_pts, H_probe_x2, H_pcf11_pts2, H_pol2_pts2,
      H_pcf11_fit_x, H_pcf11_fit, H_pol2_fit_x, H_pol2_fit)
strand_arrow(ax, 441985, 442450, 0.05, scale=13)
star(ax, 442355, 1.63)
gene_label(ax, 442377, -0.7, 'SCR1')
ftext(1306, 362, 'H', 19)
ftext(1192, 327, 'chrV 441983 442504 SCR1 +', 6.5, style='italic', color='#444444')

# ---- I: telomeres without Y' ----
ax = panel((53, 667, 334, 922), (-0.16, 31.16), (-1.65, 1.63), x30,
           [-1.5, -1.0, -0.5, 0.0, 0.5, 1.0, 1.5])
metagene(ax, bins20, I_pcf11, '#d86ee0')
metagene(ax, bins20, I_rat1, RAT)
metagene(ax, bins20, I_nrd1, NRD)
metagene(ax, bins20, I_pol2, POL)
legend(ax, ['pol II', 'pcf11', 'rat1', 'nrd1'], ['#444444', PCF_L, RAT, NRD], 244, 815, spacing=0.4)
ftext(72, 692, 'I', 19)
ftext(183, 682, 'TELOMERES - Y\u2019', 13, fontweight='bold')

# ---- J: telomeres with Y' ----
ax = panel((374, 663, 668, 918), (-1.44, 31.2), (-1.64, 1.61), x30,
           [-1.5, -1.0, -0.5, 0.0, 0.5, 1.0, 1.5])
metagene(ax, bins20, J_pcf11, '#d86ee0')
metagene(ax, bins20, J_rat1, RAT)
metagene(ax, bins20, J_nrd1, NRD)
metagene(ax, bins20, J_pol2, POL)
ftext(402, 692, 'J', 19)
ftext(547, 680, 'TELOMERES + Y\u2019', 13, fontweight='bold')

# ---- K: TEL07L ----
ax = panel((721, 667, 1004, 908), (-75, 1846), (-1.30, 1.81),
           [0, 500, 1000, 1500], [-1.0, -0.5, 0.0, 0.5, 1.0, 1.5])
track(ax, K_track, K_feature, K_genes, end_top=1.06)
tiled(ax, K_probe_x, K_pcf11_pts, K_pol2_pts, K_probe_x2, K_pcf11_pts2, K_pol2_pts2,
      K_pcf11_fit_x, K_pcf11_fit, K_pol2_fit_x, K_pol2_fit)
legend(ax, ['pcf11', 'pol II'], [MAG, POL], 835, 680, spacing=0.45)
star(ax, 456, 1.43)
gene_label(ax, 1000, -1.07, 'TEL 7L')
ftext(742, 692, 'K', 19)
ftext(863, 647, 'chrVII 1 781 TEL07L -', 6.5, style='italic', color='#444444')

# ---- L: TEL08L ----
ax = panel((1059, 667, 1344, 908), (-273, 6744), (-1.54, 1.58),
           [0, 1000, 2000, 3000, 4000, 5000, 6000], [-1.5, -1.0, -0.5, 0.0, 0.5, 1.0, 1.5])
track(ax, L_track, L_feature, L_genes)
tiled(ax, L_probe_x, L_pcf11_pts, L_pol2_pts, L_probe_x2, L_pcf11_pts2, L_pol2_pts2,
      L_pcf11_fit_x, L_pcf11_fit, L_pol2_fit_x, L_pol2_fit)
star(ax, 90, 1.35)
gene_label(ax, 3341, -1.3, 'TEL 8L')
ftext(1318, 692, 'L', 19)
ftext(1200, 647, 'chrVIII 1 5504 TEL08L -', 6.5, style='italic', color='#444444')

# shared y label per row
for py in (152, 475, 818):
    ftext(22, py, 'Log2 ChIP /input', 16, fontweight='bold', rotation=90)

fig.savefig('out.png', dpi=100)
